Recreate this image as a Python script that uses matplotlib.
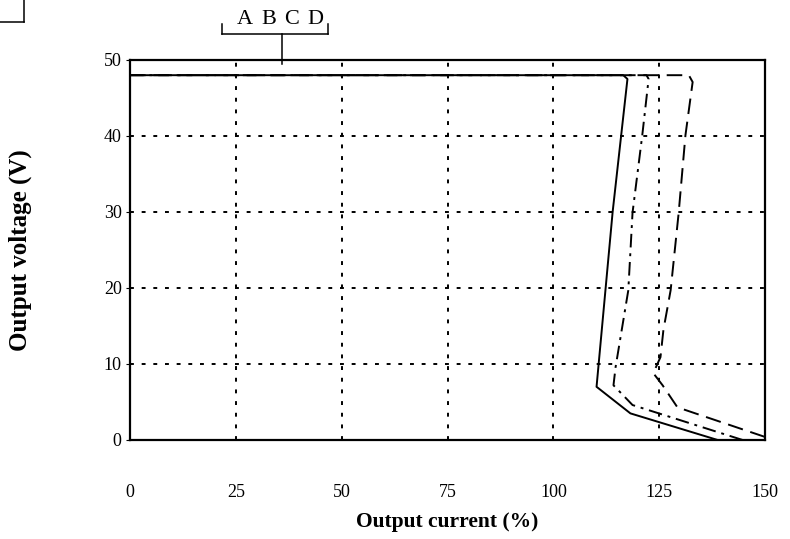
import matplotlib.pyplot as plt
from matplotlib.lines import Line2D

plt.rcParams['font.family'] = ['Liberation Serif', 'DejaVu Serif']

# current (%) / voltage (V) pairs for each curve
curr_a = [0, 116.5, 117.5, 114.0, 110.2, 118.2, 138.8]
volt_a = [48, 48, 47.5, 30.0, 7.0, 3.5, 0.0]

curr_b = [0, 122.0, 122.5, 121.0, 118.7, 117.7, 114.7, 114.2, 118.7, 144.7]
volt_b = [48, 48, 47.5, 40.1, 29.9, 19.7, 9.6, 7.2, 4.6, 0.0]

curr_c = [0, 132.0, 132.9, 131.2, 129.6, 127.7, 126.0, 125.3, 123.6, 125.8, 129.3, 150.0]
volt_c = [48, 48, 47.1, 40.1, 29.9, 19.7, 14.5, 10.9, 8.8, 7.2, 4.3, 0.4]

x_ticks = [0, 25, 50, 75, 100, 125, 150]
y_ticks = [0, 10, 20, 30, 40, 50]
curve_names = ["A", "B", "C", "D"]

fig = plt.figure(figsize=(7.9, 5.39), dpi=100)
ax = fig.add_axes([0.1646, 0.1837, 0.8038, 0.705])

for v in x_ticks[1:-1]:
    ax.axvline(v, color='black', lw=1.4, ls=(0, (2, 4)), zorder=1)
for v in y_ticks[1:-1]:
    ax.axhline(v, color='black', lw=1.4, ls=(0, (2, 4)), zorder=1)

ax.plot(curr_a, volt_a, color='black', lw=1.4, zorder=3)
ax.plot(curr_b, volt_b, color='black', lw=1.4, ls=(0, (7, 3, 1.5, 3)), zorder=3)
ax.plot(curr_c, volt_c, color='black', lw=1.4, ls=(0, (8, 4)), zorder=3)

ax.set_xlim(0, 150)
ax.set_ylim(0, 50)
ax.set_xticks(x_ticks)
ax.set_yticks(y_ticks)
ax.tick_params(axis='y', labelsize=13, length=3, width=0.8, pad=3)
ax.tick_params(axis='x', labelsize=13, length=0, pad=32)
for s in ax.spines.values():
    s.set_linewidth(1.6)

ax.set_xlabel('Output current (%)', fontsize=15.5, fontweight='bold', va='center')
ax.set_ylabel('Output voltage (V)', fontsize=18, fontweight='bold', va='center')
ax.xaxis.set_label_coords(0.5, -0.216)
ax.yaxis.set_label_coords(-0.173, 0.5)

# bracket with curve names pointing at the 48 V plateau
fx = lambda px: px / 790
fy = lambda py: 1 - py / 539
for name, px in zip(curve_names, [245, 269, 292, 315]):
    fig.text(fx(px), fy(20), name, fontsize=16, ha='center', va='center')
bracket = [
    ([fx(222), fx(222)], [fy(24), fy(34)]),
    ([fx(222), fx(328)], [fy(34), fy(34)]),
    ([fx(328), fx(328)], [fy(24), fy(34)]),
    ([fx(282), fx(282)], [fy(34), fy(64)]),
    ([0, fx(24)], [fy(22), fy(22)]),
    ([fx(24), fx(24)], [fy(0), fy(22)]),
]
for xs, ys in bracket:
    fig.add_artist(Line2D(xs, ys, color='black', lw=1.1))

fig.savefig('out.png', dpi=100)
